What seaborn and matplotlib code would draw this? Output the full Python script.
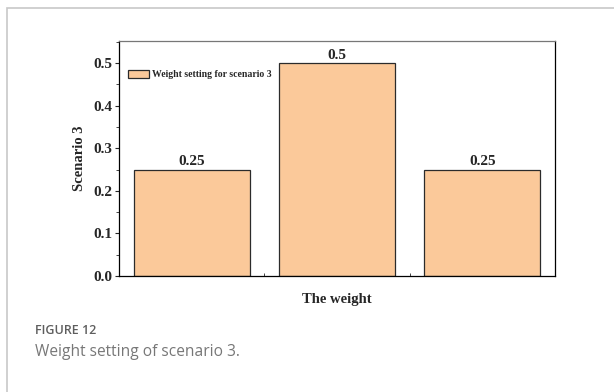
import matplotlib.pyplot as plt
import matplotlib.ticker as mticker
import pandas as pd
import seaborn as sns

categories = ['w1', 'w2', 'w3']
weights = [0.25, 0.5, 0.25]
value_labels = ['0.25', '0.5', '0.25']
y_ticks = [0.0, 0.1, 0.2, 0.3, 0.4, 0.5]

df = pd.DataFrame({'category': categories, 'weight': weights})

sns.set_style('ticks')
plt.rcParams['font.family'] = ['Liberation Serif', 'DejaVu Serif']

fig = plt.figure(figsize=(6.14, 3.92), dpi=100)
fig.patches.append(plt.Rectangle((7 / 614, -0.1), 1.2, 1 - 8 / 392 + 0.1, transform=fig.transFigure,
                                 fill=False, edgecolor='#c8c8c8', linewidth=1.2))

ax = fig.add_axes([119 / 614, 1 - 276 / 392, 436 / 614, 235 / 392])
sns.barplot(data=df, x='category', y='weight', color='#fbc99a', edgecolor='#2b2b2b',
            linewidth=0.9, width=0.8, saturation=1, ax=ax, label='Weight setting for scenario 3')

for i, (v, lab) in enumerate(zip(weights, value_labels)):
    ax.text(i, v + 0.003, lab, ha='center', va='bottom', fontsize=11, fontweight='bold')

ax.set_xlim(-0.5, 2.5)
ax.set_ylim(0, 0.552)
ax.set_yticks(y_ticks)
ax.set_yticklabels([f'{t:.1f}' for t in y_ticks], fontsize=11, fontweight='bold')
ax.yaxis.set_minor_locator(mticker.MultipleLocator(0.05))
ax.set_xticks([])
ax.xaxis.set_minor_locator(mticker.FixedLocator([0.5, 1.5]))
ax.tick_params(axis='y', which='major', length=3, width=0.8, direction='out', pad=2)
ax.tick_params(axis='y', which='minor', length=2, width=0.6, direction='out')
ax.tick_params(axis='x', which='minor', length=2, width=0.6, direction='in')

for s in ax.spines.values():
    s.set_visible(True)
    s.set_color('black')
    s.set_linewidth(0.9)
ax.spines['top'].set_color('#777777')

ax.set_xlabel('The weight', fontsize=10.5, fontweight='bold', labelpad=9)
ax.set_ylabel('Scenario 3', fontsize=10.5, fontweight='bold', labelpad=5)

ax.legend(loc='upper left', bbox_to_anchor=(0.0, 0.915), frameon=False,
          prop={'size': 7, 'weight': 'bold'}, handlelength=2.2, handleheight=0.9,
          handletextpad=0.3, borderaxespad=0.5)

fig.text(35 / 614, 1 - 331 / 392, 'FIGURE 12', fontsize=9, color='#5e5e5e', fontweight='semibold',
         family=['Open Sans', 'DejaVu Sans'], va='center', ha='left')
fig.text(35 / 614, 1 - 352 / 392, 'Weight setting of scenario 3.', fontsize=11.2, color='#777777',
         family=['Open Sans', 'DejaVu Sans'], va='center', ha='left')

fig.savefig('out.png', dpi=100, facecolor='white')
